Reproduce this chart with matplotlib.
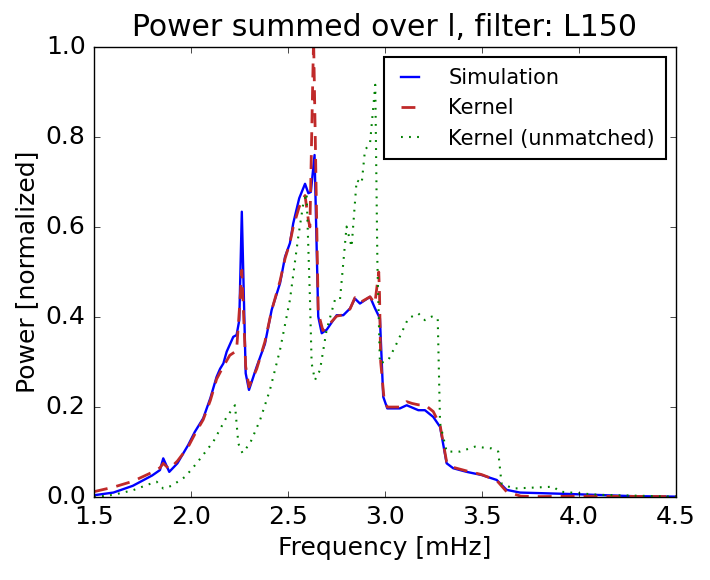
import matplotlib
matplotlib.use("Agg")
import matplotlib.pyplot as plt

plt.style.use("classic")
plt.rcParams["font.family"] = ["DejaVu Sans"]
plt.rcParams["lines.scale_dashes"] = False

# Simulation
sim_f = [1.50, 1.60, 1.70, 1.80, 1.84, 1.857, 1.888, 1.93, 1.986, 2.02, 2.063, 2.10,
         2.132, 2.15, 2.167, 2.184, 2.218, 2.235, 2.249, 2.262, 2.282, 2.299, 2.339,
         2.381, 2.416, 2.459, 2.485, 2.510, 2.527, 2.558, 2.588, 2.605, 2.618, 2.637,
         2.656, 2.674, 2.70, 2.751, 2.785, 2.820, 2.845, 2.871, 2.923, 2.948, 2.974,
         2.991, 3.012, 3.077, 3.112, 3.172, 3.206, 3.249, 3.284, 3.318, 3.352, 3.421,
         3.498, 3.576, 3.627, 3.696, 3.937, 4.28, 4.50]
sim_p = [0.004, 0.010, 0.025, 0.048, 0.060, 0.086, 0.056, 0.075, 0.116, 0.145, 0.175, 0.22,
         0.267, 0.285, 0.297, 0.323, 0.356, 0.360, 0.393, 0.634, 0.275, 0.238, 0.29,
         0.34, 0.416, 0.475, 0.534, 0.564, 0.608, 0.664, 0.696, 0.675, 0.678, 0.760,
         0.401, 0.364, 0.372, 0.404, 0.404, 0.419, 0.441, 0.430, 0.445, 0.420, 0.397,
         0.223, 0.197, 0.197, 0.204, 0.193, 0.193, 0.178, 0.156, 0.075, 0.064, 0.056,
         0.049, 0.038, 0.016, 0.010, 0.007, 0.002, 0.001]

# Kernel
ker_f = [1.50, 1.60, 1.70, 1.80, 1.84, 1.857, 1.888, 1.93, 1.986, 2.02, 2.063, 2.10,
         2.132, 2.16, 2.20, 2.235, 2.25, 2.262, 2.282, 2.299, 2.339, 2.381, 2.416,
         2.459, 2.485, 2.510, 2.527, 2.558, 2.588, 2.605, 2.613, 2.632, 2.656, 2.68,
         2.70, 2.751, 2.785, 2.820, 2.845, 2.871, 2.923, 2.948, 2.968, 2.972, 2.978,
         2.995, 3.012, 3.077, 3.112, 3.14, 3.172, 3.206, 3.249, 3.284, 3.318, 3.352,
         3.421, 3.498, 3.576, 3.627, 3.70, 3.80, 4.0, 4.5]
ker_p = [0.012, 0.022, 0.035, 0.055, 0.065, 0.075, 0.062, 0.08, 0.112, 0.14, 0.172, 0.215,
         0.262, 0.285, 0.315, 0.325, 0.42, 0.504, 0.29, 0.245, 0.285, 0.345, 0.415,
         0.48, 0.53, 0.565, 0.60, 0.645, 0.670, 0.616, 0.60, 1.02, 0.41, 0.37,
         0.378, 0.402, 0.405, 0.418, 0.443, 0.432, 0.445, 0.43, 0.50, 0.45, 0.30,
         0.22, 0.20, 0.20, 0.212, 0.208, 0.205, 0.205, 0.19, 0.16, 0.078, 0.066,
         0.058, 0.050, 0.037, 0.012, 0.002, 0.001, 0.002, 0.001]

# Kernel (unmatched)
unm_f = [1.50, 1.60, 1.70, 1.78, 1.823, 1.857, 1.90, 1.97, 2.029, 2.115, 2.184, 2.227,
         2.244, 2.265, 2.304, 2.356, 2.407, 2.459, 2.510, 2.553, 2.579, 2.596, 2.613,
         2.622, 2.639, 2.665, 2.699, 2.742, 2.768, 2.802, 2.828, 2.854, 2.880, 2.897,
         2.923, 2.950, 2.961, 2.974, 3.017, 3.060, 3.120, 3.172, 3.206, 3.241, 3.272,
         3.284, 3.318, 3.387, 3.464, 3.550, 3.584, 3.601, 3.662, 3.868, 3.902, 4.10, 4.50]
unm_p = [0.000, 0.005, 0.015, 0.028, 0.034, 0.019, 0.025, 0.045, 0.075, 0.123, 0.178, 0.204,
         0.119, 0.098, 0.119, 0.171, 0.238, 0.327, 0.438, 0.578, 0.652, 0.675, 0.445,
         0.297, 0.26, 0.282, 0.371, 0.438, 0.438, 0.601, 0.556, 0.704, 0.697, 0.771,
         0.786, 0.916, 0.519, 0.297, 0.304, 0.341, 0.397, 0.408, 0.393, 0.401, 0.397,
         0.164, 0.101, 0.101, 0.112, 0.108, 0.101, 0.030, 0.019, 0.023, 0.012, 0.005, 0.001]

fig = plt.figure(figsize=(7.1, 5.8), dpi=100, facecolor="white")
ax = fig.add_axes([0.1324, 0.143, 0.8196, 0.776])

ax.plot(sim_f, sim_p, color="#0000ff", lw=1.7, label="Simulation")
ax.plot(ker_f, ker_p, color="#c02a2a", lw=2.0, dashes=(10, 6.5), label="Kernel")
ax.plot(unm_f, unm_p, color="#008000", lw=1.5, dashes=(1.3, 4.5), label="Kernel (unmatched)")

ax.set_xlim(1.5, 4.5)
ax.set_ylim(0.0, 1.0)
ax.set_xticks([1.5, 2.0, 2.5, 3.0, 3.5, 4.0, 4.5])
ax.set_yticks([0.0, 0.2, 0.4, 0.6, 0.8, 1.0])
ax.tick_params(labelsize=18, pad=6)
ax.set_xlabel("Frequency [mHz]", fontsize=18)
ax.set_ylabel("Power [normalized]", fontsize=18)
ax.set_title("Power summed over l, filter: L150", fontsize=21.5, y=1.01)

leg = ax.legend(loc="upper right", fontsize=15, handlelength=1.5, handletextpad=1.1,
                labelspacing=0.5, borderpad=0.5, borderaxespad=0.5, fancybox=False)
leg.get_frame().set_edgecolor("black")
leg.get_frame().set_linewidth(1.5)

fig.savefig("out.png", dpi=100, facecolor="white")
